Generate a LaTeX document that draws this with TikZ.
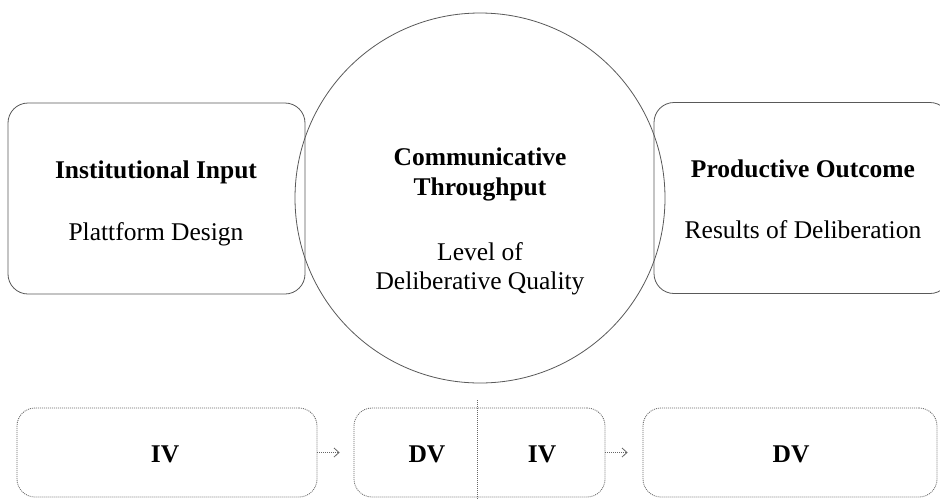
\documentclass[tikz,border=0pt]{standalone}
\usepackage{fontspec}
\setmainfont{Liberation Serif}
\usetikzlibrary{arrows.meta}
\begin{document}
\begin{tikzpicture}[x=1pt,y=-1pt,
  solidline/.style={draw=black!65, line width=0.8pt},
  topbox/.style={solidline, rectangle, rounded corners=20pt, inner sep=0pt},
  dotline/.style={draw=black!60, line width=0.8pt, dash pattern=on 1pt off 1pt},
  botbox/.style={dotline, rectangle, rounded corners=18pt, inner sep=0pt, minimum height=89pt},
  dotarrow/.style={dotline, -{Straight Barb[length=5pt,width=9pt]}},
  head/.style={font=\fontsize{25.5}{30}\selectfont\bfseries, anchor=base, inner sep=0pt},
  body/.style={font=\fontsize{25.5}{30}\selectfont, anchor=base, inner sep=0pt},
  var/.style={font=\fontsize{25.5}{30}\selectfont\bfseries, inner sep=0pt}
]
\clip (0,0) rectangle (940,499);
\fill[white] (0,0) rectangle (940,499);

% top row
\node[topbox, minimum width=297pt, minimum height=191pt] (input) at (156.5,198.5) {};
\node[topbox, minimum width=296pt, minimum height=191pt] (output) at (802,198) {};
\node[solidline, circle, minimum size=370pt, inner sep=0pt] (through) at (480,198) {};

\node[head] (inputT) at (156,178) {Institutional Input};
\node[body] (inputB) at (156,240) {Plattform Design};

\node[head] (throughT1) at (480,165) {Communicative};
\node[head] (throughT2) at (480,195) {Throughput};
\node[body] (throughB1) at (480,260) {Level of};
\node[body] (throughB2) at (480,289) {Deliberative Quality};

\node[head] (outputT) at (803,177) {Productive Outcome};
\node[body] (outputB) at (803,238) {Results of Deliberation};

% bottom row
\node[botbox, minimum width=300pt] (iv1) at (167,452.5) {};
\node[botbox, minimum width=251pt] (dviv) at (479.5,452.5) {};
\node[botbox, minimum width=294pt] (dv2) at (790,452.5) {};

\coordinate (divtop) at (477,400);
\coordinate (divbot) at (477,499);
\draw[dotline] (divtop) -- (divbot);

\node[var] (ivT) at (165,454) {IV};
\node[var] (dvT) at (427,454) {DV};
\node[var] (iv2T) at (542,454) {IV};
\node[var] (dv2T) at (791,454) {DV};

\draw[dotarrow, shorten >=14pt] (iv1.east) -- (dviv.west);
\draw[dotarrow, shorten >=15pt] (dviv.east) -- (dv2.west);
\end{tikzpicture}
\end{document}
